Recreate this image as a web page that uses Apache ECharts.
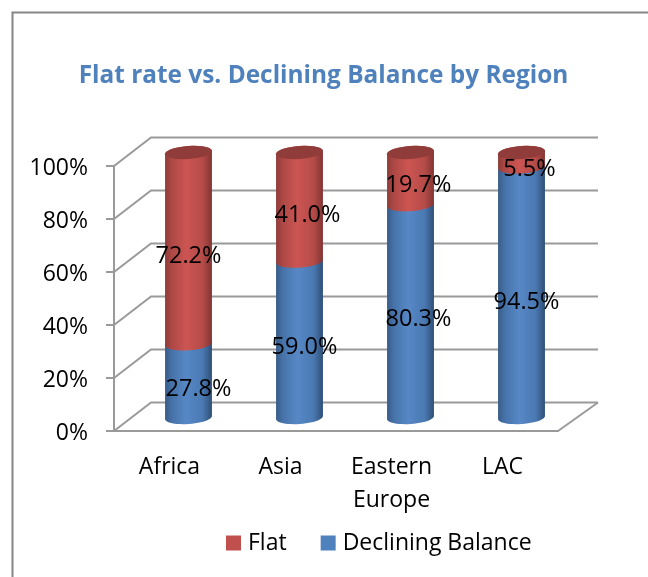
<!DOCTYPE html>
<html>
<head>
<meta charset="utf-8">
<style>
  html, body { margin: 0; padding: 0; background: #fff; }
  #chart { width: 648px; height: 577px; }
</style>
<script src="https://cdn.jsdelivr.net/npm/echarts@6/dist/echarts.min.js"></script>
</head>
<body>
<div id="chart"></div>
<script>
  var categories = ['Africa', 'Asia', 'Eastern\nEurope', 'LAC']
  var declining = [27.8, 59.0, 80.3, 94.5]
  var flat = [72.2, 41.0, 19.7, 5.5]
  var yTicks = [0, 20, 40, 60, 80, 100]

  // label nudges, the 3d look of the original puts them off centre
  var decliningNudge = [[10, 9], [5, 8], [8, 8], [5, 10]]
  var flatNudge = [[0, 8], [8, 8], [8, 7], [8, 10]]

  var font = '"Open Sans"'
  var depth = { left: 37, right: 40, y: 28.5 }
  var cyl = { dx: 19, dy: -13.5, rx: 23.5, ry: 6.5, tilt: -4 * Math.PI / 180 }

  var blueBody = new echarts.graphic.LinearGradient(0, 0, 1, 0, [
    { offset: 0, color: '#375C88' },
    { offset: 0.14, color: '#4672A8' },
    { offset: 0.45, color: '#5788C6' },
    { offset: 0.8, color: '#4A79B2' },
    { offset: 1, color: '#2F4F77' }
  ])
  var redBody = new echarts.graphic.LinearGradient(0, 0, 1, 0, [
    { offset: 0, color: '#8E3B39' },
    { offset: 0.14, color: '#AD4845' },
    { offset: 0.45, color: '#CC5552' },
    { offset: 0.8, color: '#B54B48' },
    { offset: 1, color: '#823533' }
  ])

  function ellipsePoints(cx, cy, from, to) {
    var pts = []
    var steps = 24
    for (var i = 0; i <= steps; i++) {
      var t = from + (to - from) * i / steps
      var ex = cyl.rx * Math.cos(t)
      var ey = cyl.ry * Math.sin(t)
      pts.push([
        cx + ex * Math.cos(cyl.tilt) - ey * Math.sin(cyl.tilt),
        cy + ex * Math.sin(cyl.tilt) + ey * Math.cos(cyl.tilt)
      ])
    }
    return pts
  }

  function makeCylinder(fill, capColor, nudge) {
    return function (params, api) {
      var i = api.value(0)
      var low = api.value(1)
      var high = api.value(2)
      var bottom = api.coord([i, low])
      var top = api.coord([i, high])
      var cx = bottom[0] + cyl.dx
      var y0 = bottom[1] + cyl.dy
      var y1 = top[1] + cyl.dy

      var outline = ellipsePoints(cx, y0, Math.PI, 0).concat(ellipsePoints(cx, y1, 0, -Math.PI))
      var children = [{ type: 'polygon', shape: { points: outline }, style: { fill: fill } }]
      if (capColor) {
        children.push({
          type: 'polygon',
          shape: { points: ellipsePoints(cx, y1, 0, Math.PI * 2) },
          style: { fill: capColor }
        })
      }
      children.push({
        type: 'text',
        z2: 10,
        style: {
          x: cx + nudge[i][0],
          y: (y0 + y1) / 2 + nudge[i][1],
          text: (high - low).toFixed(1) + '%',
          font: '23.5px ' + font,
          fill: '#000',
          align: 'center',
          verticalAlign: 'middle'
        }
      })
      return { type: 'group', children: children }
    }
  }

  // side walls and back wall gridlines
  function renderWall(params, api) {
    var v = api.value(0)
    var rect = params.coordSys
    var left = rect.x
    var right = rect.x + rect.width
    var y = api.coord([0, v])[1]
    var back = y - depth.y
    var lineStyle = { stroke: '#9A9A9A', lineWidth: 2 }
    var children = [{
      type: 'polyline',
      shape: { points: [[left, y], [left + depth.left, back], [right + depth.right, back]] },
      style: Object.assign({ fill: null }, lineStyle)
    }]
    if (v === 0) {
      children.push({
        type: 'line',
        shape: { x1: right, y1: y, x2: right + depth.right, y2: back },
        style: lineStyle
      })
    }
    return { type: 'group', children: children }
  }

  var decliningData = declining.map(function (v, i) { return [i, 0, v] })
  var flatData = flat.map(function (v, i) { return [i, declining[i], declining[i] + v] })

  var chart = echarts.init(document.getElementById('chart'), null, { renderer: 'canvas' })
  chart.setOption({
    animation: false,
    backgroundColor: '#fff',
    graphic: [{
      type: 'polyline',
      silent: true,
      shape: { points: [[12.5, 577], [12.5, 12.5], [648, 12.5]] },
      style: { fill: null, stroke: '#868686', lineWidth: 2 }
    }],
    title: {
      text: 'Flat rate vs. Declining Balance by Region',
      left: 318.5,
      top: 59,
      textAlign: 'center',
      textStyle: { color: '#4F81BD', fontFamily: font, fontWeight: 'bold', fontSize: 24.4 }
    },
    legend: {
      data: ['Flat', 'Declining Balance'],
      left: 221,
      top: 527,
      icon: 'rect',
      itemWidth: 15,
      itemHeight: 15,
      itemGap: 34,
      selectedMode: false,
      formatter: '{t|{name}}',
      textStyle: {
        rich: { t: { color: '#000', fontFamily: font, fontSize: 23, padding: [1, 0, 0, 2] } }
      }
    },
    grid: { left: 114, top: 166, width: 444, height: 265 },
    xAxis: {
      type: 'category',
      data: categories,
      boundaryGap: true,
      axisLine: { lineStyle: { color: '#9A9A9A', width: 2 } },
      axisTick: { alignWithLabel: false, length: 7, lineStyle: { color: '#9A9A9A', width: 2 } },
      axisLabel: { color: '#000', fontFamily: font, fontSize: 23, lineHeight: 33, margin: 20, interval: 0 }
    },
    yAxis: {
      type: 'value',
      min: 0,
      max: 100,
      interval: 20,
      axisLine: { show: true, lineStyle: { color: '#9A9A9A', width: 2 } },
      axisTick: { show: true, length: 8, lineStyle: { color: '#9A9A9A', width: 2 } },
      axisLabel: {
        margin: 26,
        formatter: '{t|{value}%}',
        rich: { t: { color: '#000', fontFamily: font, fontSize: 23, padding: [4, 0, 0, 0] } }
      },
      splitLine: { show: false }
    },
    series: [
      {
        type: 'custom',
        name: 'walls',
        silent: true,
        z: 1,
        renderItem: renderWall,
        encode: { y: 0 },
        data: yTicks.map(function (v) { return [v] })
      },
      {
        type: 'custom',
        name: 'Declining Balance',
        z: 2,
        itemStyle: { color: '#4F81BD' },
        renderItem: makeCylinder(blueBody, null, decliningNudge),
        encode: { x: 0, y: 2 },
        data: decliningData
      },
      {
        type: 'custom',
        name: 'Flat',
        z: 3,
        itemStyle: { color: '#C0504D' },
        renderItem: makeCylinder(redBody, '#8F3C3A', flatNudge),
        encode: { x: 0, y: 2 },
        data: flatData
      }
    ]
  })
</script>
</body>
</html>
